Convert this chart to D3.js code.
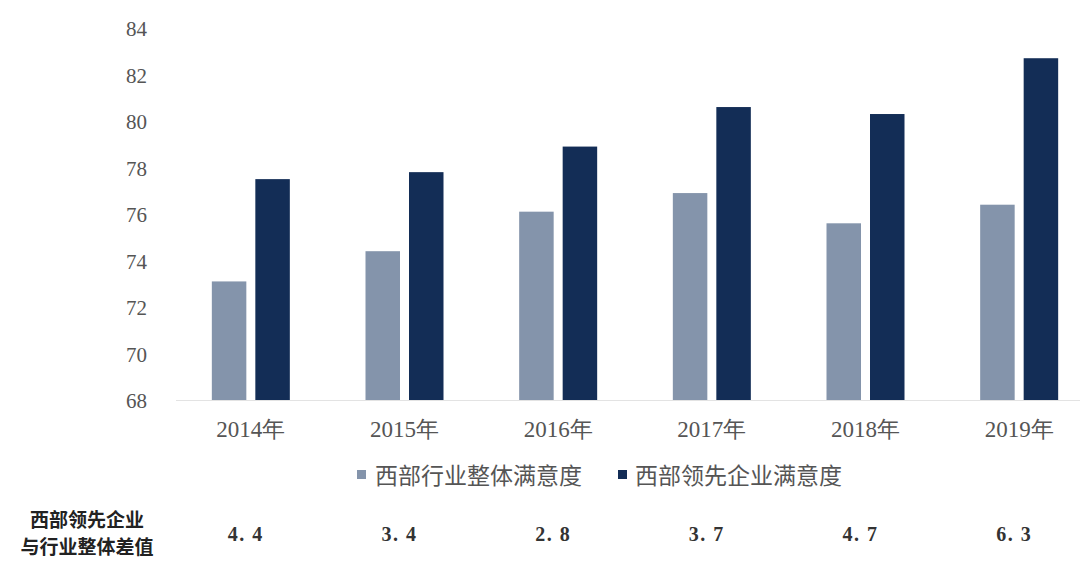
<!DOCTYPE html>
<html><head><meta charset="utf-8">
<script src="https://cdn.jsdelivr.net/npm/d3@7"></script>
<style>body{margin:0;background:#fff}svg{display:block}</style>
</head><body>
<svg id="c" width="1080" height="566"></svg>
<script>
const years = ["2014年","2015年","2016年","2017年","2018年","2019年"];
const industry = [73.1, 74.4, 76.1, 76.9, 75.6, 76.4];
const leaders = [77.5, 77.8, 78.9, 80.6, 80.3, 82.7];
const diffs = ["4.4","3.4","2.8","3.7","4.7","6.3"];
const seriesNames = ["西部行业整体满意度","西部领先企业满意度"];
const yTicks = [68,70,72,74,76,78,80,82,84];
const colors = ["#8494ab","#132d56"];

const svg = d3.select("#c");
const x = d3.scaleBand().domain(years).range([174, 1096]).paddingInner(0).paddingOuter(0);
const y = d3.scaleLinear().domain([68,84]).range([400, 28]);
const barW = 34.5, gap = 9;
const serif = "'Liberation Serif','DejaVu Serif',serif";

// axis line
svg.append("line").attr("x1",176).attr("x2",1080).attr("y1",y(68)+0.5).attr("y2",y(68)+0.5)
  .attr("stroke","#e3e3e3").attr("stroke-width",1);

// y tick labels
const yAxis = d3.axisLeft(y).tickValues(yTicks).tickSize(0).tickPadding(0);
const ga = svg.append("g").attr("transform","translate(147,1)").call(yAxis);
ga.select(".domain").remove();
ga.selectAll("text").attr("font-family",serif).attr("font-size",21).attr("fill","#555");

// x labels
const gx = svg.append("g").attr("transform",`translate(0,${y(68)})`)
  .call(d3.axisBottom(x).tickSize(0).tickPadding(21));
gx.select(".domain").remove();
gx.selectAll("text").attr("font-size",23).attr("fill","#555").attr("font-family",serif);

const cx = d => x(d) + x.bandwidth()/2;
svg.selectAll(".b1").data(years).join("rect")
  .attr("x",d=>cx(d)-gap/2-barW).attr("width",barW)
  .attr("y",(d,i)=>y(industry[i])).attr("height",(d,i)=>y(68)-y(industry[i]))
  .attr("fill",colors[0]);
svg.selectAll(".b2").data(years).join("rect")
  .attr("x",d=>cx(d)+gap/2).attr("width",barW)
  .attr("y",(d,i)=>y(leaders[i])).attr("height",(d,i)=>y(68)-y(leaders[i]))
  .attr("fill",colors[1]);

// legend
const leg = [[357,375],[618,635]];
seriesNames.forEach((n,i)=>{
  svg.append("rect").attr("x",leg[i][0]).attr("y",470).attr("width",9).attr("height",9).attr("fill",colors[i]);
  svg.append("text").attr("x",leg[i][1]).attr("y",478).attr("dominant-baseline","middle")
    .attr("font-family","'Noto Sans CJK SC'").attr("font-size",23).attr("fill","#555").text(n);
});

// bottom row
svg.append("text").attr("x",87).attr("y",522).attr("text-anchor","middle").attr("dominant-baseline","middle")
  .attr("font-family","'Noto Sans CJK SC'").attr("font-weight","bold").attr("font-size",19).attr("fill","#222").text("西部领先企业");
svg.append("text").attr("x",87).attr("y",549).attr("text-anchor","middle").attr("dominant-baseline","middle")
  .attr("font-family","'Noto Sans CJK SC'").attr("font-weight","bold").attr("font-size",19).attr("fill","#222").text("与行业整体差值");
svg.selectAll(".d").data(years).join("text")
  .attr("x",d=>cx(d)-5).attr("y",536).attr("text-anchor","middle").attr("dominant-baseline","middle")
  .attr("font-family",serif).attr("font-weight","bold").attr("font-size",20).attr("fill","#333")
  .attr("letter-spacing",1.5)
  .text((d,i)=>diffs[i].replace(".",". "));
</script>
</body></html>
